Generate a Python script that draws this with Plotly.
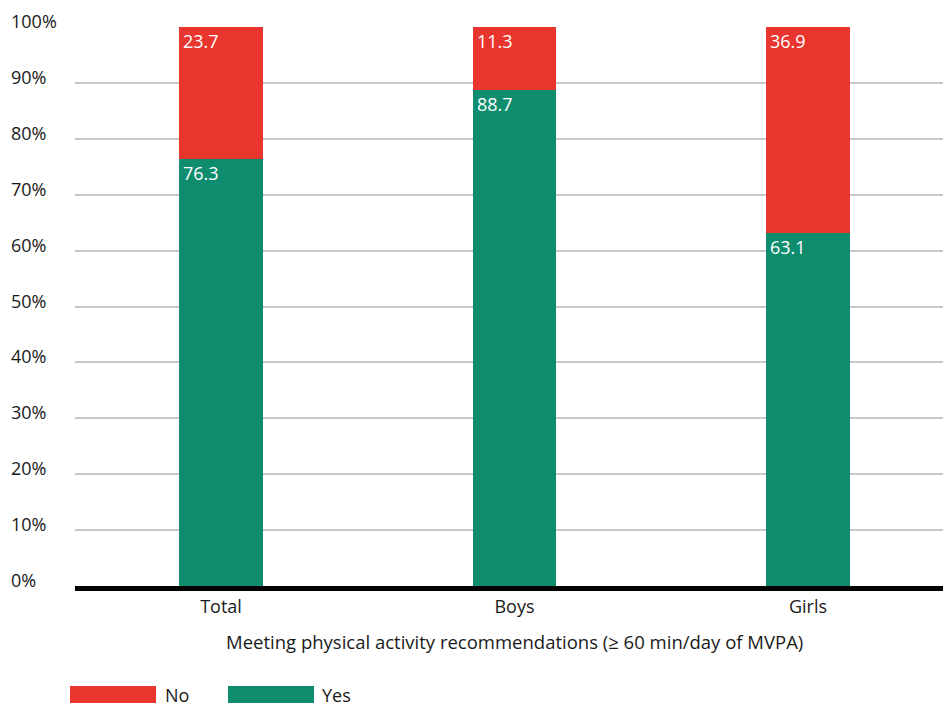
import plotly.graph_objects as go

categories = ["Total", "Boys", "Girls"]
yes_values = [76.3, 88.7, 63.1]
no_values = [23.7, 11.3, 36.9]
series_names = ["No", "Yes"]
y_ticks = [0, 10, 20, 30, 40, 50, 60, 70, 80, 90, 100]
x_title = "Meeting physical activity recommendations (≥ 60 min/day of MVPA)"

RED = "#E8352D"
GREEN = "#0E8C6E"
FONT = "Open Sans"
TXT = "#1a1a1a"

W, H = 943, 707
ML, MR, MT, MB = 75, 0, 27, 121
PW = W - ML - MR
PH = H - MT - MB
X_RANGE = [-0.4975, 2.46]
BAR_W = 0.286
bar_px = BAR_W * PW / (X_RANGE[1] - X_RANGE[0])

fig = go.Figure()
fig.add_trace(go.Bar(x=categories, y=yes_values, name="Yes", marker_color=GREEN,
                     width=BAR_W, marker_line_width=0, hoverinfo="skip"))
fig.add_trace(go.Bar(x=categories, y=no_values, name="No", marker_color=RED,
                     width=BAR_W, marker_line_width=0, hoverinfo="skip"))

annotations = []
for c, yv, nv in zip(categories, yes_values, no_values):
    for val, top in ((nv, yv + nv), (yv, yv)):
        annotations.append(dict(x=c, y=top, xref="x", yref="y", text=f"{val:.1f}",
                                showarrow=False, xanchor="left", yanchor="top",
                                xshift=-bar_px / 2 + 2, yshift=0,
                                font=dict(family=FONT, size=18, color="white")))

# y tick labels, left aligned
for t in y_ticks:
    annotations.append(dict(x=-(ML - 9) / PW, y=t, xref="paper", yref="y",
                            text=f"{t}%", showarrow=False, xanchor="left",
                            yanchor="middle", yshift=6,
                            font=dict(family=FONT, size=18, color=TXT)))

# x axis title centred under the middle category
annotations.append(dict(x=categories[len(categories) // 2], y=-(641 - (MT + PH)) / PH,
                        xref="x", yref="paper", text=x_title, showarrow=False,
                        xanchor="center", yanchor="middle",
                        font=dict(family=FONT, size=18.5, color=TXT)))

# custom legend
shapes = []
legend_items = [("No", RED, 70, 163), ("Yes", GREEN, 228, 320)]
for name, col, x0px, txpx in legend_items:
    shapes.append(dict(type="rect", xref="paper", yref="paper",
                       x0=(x0px - ML) / PW, x1=(x0px + 86 - ML) / PW,
                       y0=-(703 - (MT + PH)) / PH, y1=-(686 - (MT + PH)) / PH,
                       fillcolor=col, line_width=0))
    annotations.append(dict(x=(txpx - ML) / PW, y=-(695 - (MT + PH)) / PH,
                            xref="paper", yref="paper", text=name, showarrow=False,
                            xanchor="left", yanchor="middle",
                            font=dict(family=FONT, size=18, color=TXT)))

fig.update_layout(
    width=W, height=H,
    margin=dict(l=ML, r=MR, t=MT, b=MB),
    barmode="stack",
    plot_bgcolor="white", paper_bgcolor="white",
    showlegend=False,
    font=dict(family=FONT, size=18, color=TXT),
    annotations=annotations,
    shapes=shapes,
)
fig.update_xaxes(range=X_RANGE, showline=True, linecolor="black", linewidth=5, ticks="",
                 tickfont=dict(family=FONT, size=18, color=TXT), fixedrange=True)
fig.update_yaxes(range=[0, 100], tickvals=y_ticks, showticklabels=False,
                 showgrid=True, gridcolor="#c8c8c8", gridwidth=1.5,
                 zeroline=False, fixedrange=True)

fig.write_html("out.html", config={"displayModeBar": False},
               post_script="document.body.style.margin='0';document.body.style.overflow='hidden';")
